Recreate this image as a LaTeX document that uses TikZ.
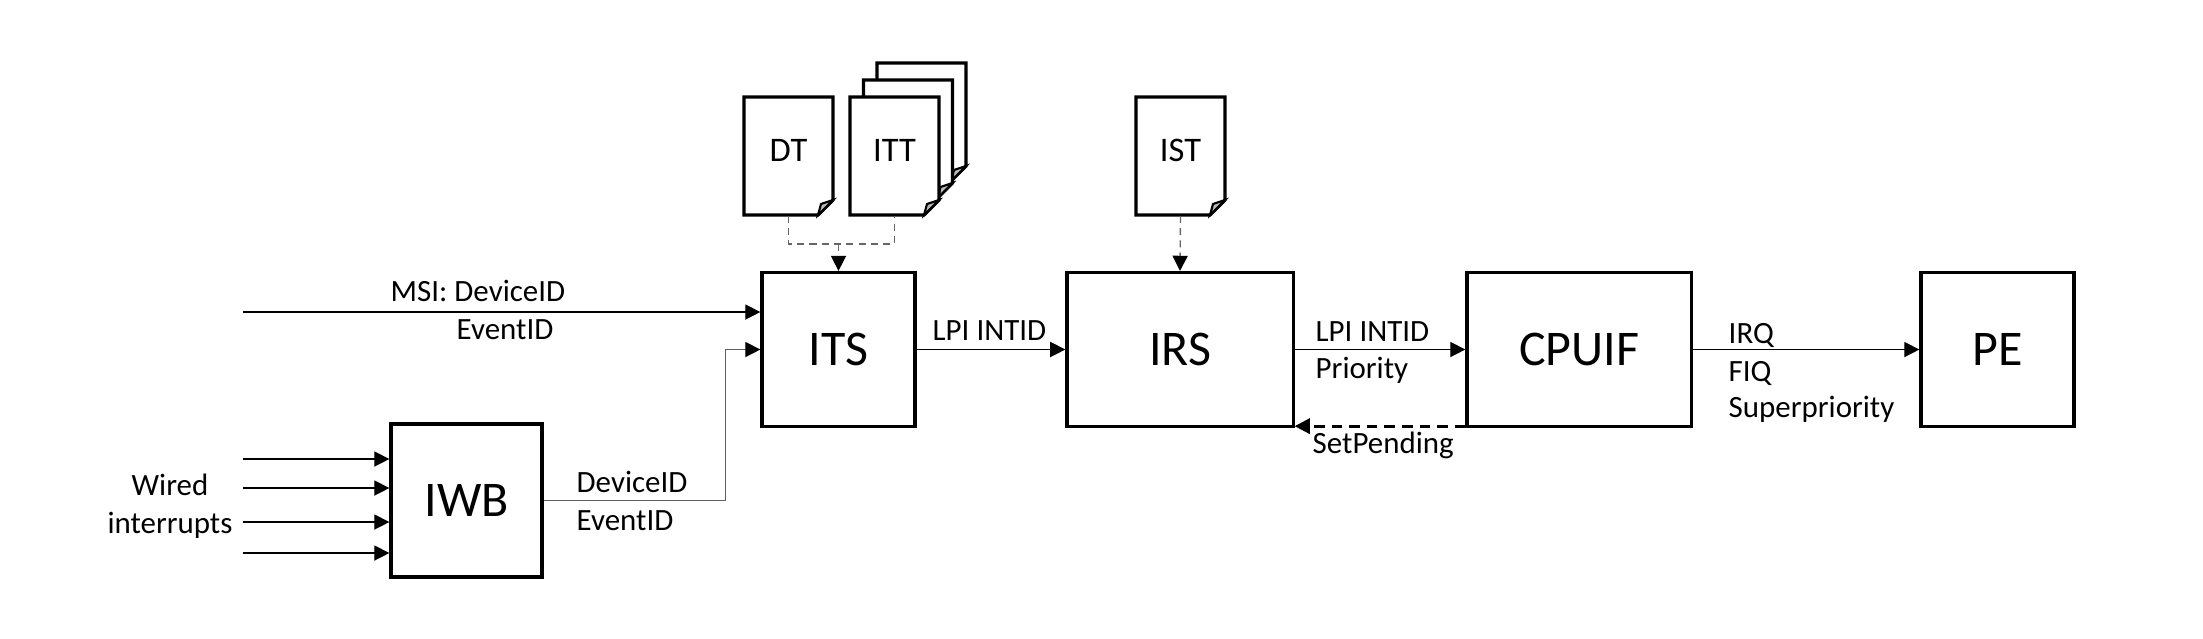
\documentclass[tikz,border=0pt]{standalone}
\usepackage{fontspec}
\setmainfont{Carlito}
\usetikzlibrary{arrows.meta}

% page outline with a folded corner, centre at (#1,#2)
\newcommand{\docpage}[2]{%
  \draw[docline,fill=white] (#1-44.5,#2-59) -- (#1+44.5,#2-59) -- (#1+44.5,#2+44)
    -- (#1+29.5,#2+59) -- (#1-44.5,#2+59) -- cycle ;
  \draw[docline,line width=0.6pt,fill=gray!55] (#1+29.5,#2+59) -- (#1+32.5,#2+48)
    -- (#1+44.5,#2+44) -- cycle ;}

\begin{document}
\begin{tikzpicture}[x=0.01cm,y=-0.01cm,
    block/.style={draw,line width=0.9pt,minimum height=1.54cm,
      font=\fontsize{14.2}{16}\selectfont},
    doc/.style={minimum width=0.89cm,minimum height=1.18cm,text depth=0.12cm,
      font=\fontsize{9.8}{11}\selectfont},
    docline/.style={line width=0.9pt,line join=miter},
    lbl/.style={inner sep=0pt,anchor=base west,font=\fontsize{8.8}{10}\selectfont},
    link/.style={line width=0.4pt,-{Triangle[length=4.3pt,width=4.3pt]}},
    tabline/.style={gray!80!black,line width=0.4pt,dash pattern=on 2pt off 1.5pt},
    tip/.style={-{Triangle[length=4.3pt,width=4.3pt,black]}}]
  \useasboundingbox (0,0) rectangle (2203,638) ;

  % tables in memory
  \docpage{921.5}{122}
  \docpage{908}{139}
  \docpage{788.5}{156}
  \docpage{894.5}{156}
  \docpage{1180.5}{156}
  \node[doc] (DT) at (788.5,156) {DT} ;
  \node[doc] (ITT) at (894.5,156) {ITT} ;
  \node[doc] (IST) at (1180.5,156) {IST} ;

  % blocks
  \node[block,minimum width=1.53cm] (ITS) at (838.5,349.5) {ITS} ;
  \node[block,minimum width=2.26cm] (IRS) at (1180,349.5) {IRS} ;
  \node[block,minimum width=2.24cm] (CPUIF) at (1579,349.5) {CPUIF} ;
  \node[block,minimum width=1.53cm] (PE) at (1997.5,349.5) {PE} ;
  \node[block,minimum width=1.51cm,minimum height=1.53cm] (IWB) at (466.5,500.5) {IWB} ;

  % table lookups
  \coordinate (merge) at (ITS.north |- 0,244) ;
  \draw[tabline] (DT.south) |- (merge) -| (ITT.south) ;
  \draw[tabline,tip] (merge) -- (ITS.north) ;
  \draw[tabline,tip] (IST.south) -- (IRS.north) ;

  % inputs
  \coordinate (msi) at (243,312) ;
  \draw[link] (msi) -- (msi -| ITS.west) ;
  \node[lbl] (msia) at (390,301) {MSI: DeviceID} ;
  \node[lbl] (msib) at (456,339) {EventID} ;
  \foreach \y [count=\i] in {459,488,522,553} {
    \coordinate (wire\i) at (243,\y) ;
    \draw[link] (wire\i) -- (wire\i -| IWB.west) ;
  }
  \node[lbl,anchor=base] (wireda) at (170,495) {Wired} ;
  \node[lbl,anchor=base] (wiredb) at (170,533) {interrupts} ;
  \draw[link,gray!75!black,-{Triangle[length=4.3pt,width=4.3pt,black]}] %
    (IWB.east) -- ++(182,0) |- (ITS.west) ;
  \node[lbl] (iwba) at (576,492) {DeviceID} ;
  \node[lbl] (iwbb) at (576,530) {EventID} ;

  % interrupt path
  \draw[link] (ITS.east) -- (IRS.west) ;
  \node[lbl] (itsa) at (932,340) {LPI INTID} ;
  \draw[link] (IRS.east) -- (CPUIF.west) ;
  \node[lbl] (irsa) at (1315,341) {LPI INTID} ;
  \node[lbl] (irsb) at (1315,378) {Priority} ;
  \draw[line width=0.8pt,dash pattern=on 3pt off 2pt,tip] %
    ([yshift=0.02cm]CPUIF.south west) -- ([yshift=0.02cm]IRS.south east) ;
  \node[lbl] (pend) at (1312,453) {SetPending} ;
  \draw[link] (CPUIF.east) -- (PE.west) ;
  \node[lbl] (pea) at (1728,343) {IRQ} ;
  \node[lbl] (peb) at (1728,381) {FIQ} ;
  \node[lbl] (pec) at (1728,417) {Superpriority} ;
\end{tikzpicture}
\end{document}
